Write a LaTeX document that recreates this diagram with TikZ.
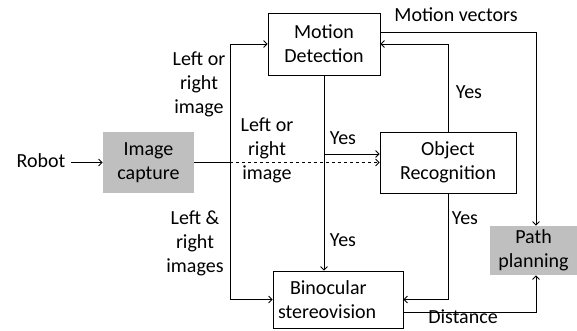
\documentclass[tikz,border=0pt]{standalone}
\usepackage{fontspec}
\setmainfont{Carlito}
\usetikzlibrary{arrows.meta}
\begin{document}
\begin{tikzpicture}[x=1pt,y=-1pt,
  font=\fontsize{20}{24}\selectfont,
  line width=0.8pt,
  >={Straight Barb[length=3.5pt,width=7pt]},
  box/.style={draw,inner sep=0pt,align=center},
  gbox/.style={fill=black!25,inner sep=0pt,align=center},
  lbl/.style={inner sep=0pt,align=center}]
\useasboundingbox (0,0) rectangle (577,330);
% blocks
\node[lbl] (robot) at (41,161) {Robot};
\node[gbox,minimum width=91pt,minimum height=61pt] (ic) at (148.5,162.5) {Image\\capture};
\node[box,minimum width=112pt,minimum height=62pt] (md) at (324,44) {Motion\\Detection};
\node[box,minimum width=136pt,minimum height=61pt] (or) at (448,162.5) {Object\\Recognition};
\node[box,minimum width=130pt,minimum height=57pt,text width=120pt,align=left] (bs) at (338,299.5) {\hspace*{12pt}Binocular\\stereovision};
\node[gbox,minimum width=87pt,minimum height=49pt] (pp) at (533.5,250.5) {Path\\planning};
% helper coordinates
\coordinate (sp) at (230,162.5);
\coordinate (yesy) at (0,154);
\coordinate (mv) at (536,32);
\coordinate (dst) at (536,312);
% connectors
\draw[->] ([xshift=5pt]robot.east |- ic.west) -- (ic.west);
\draw (ic.east) -- (sp);
\draw[->] (sp) |- (md.west);
\draw[->] (sp) |- (bs.west);
\draw[->,dashed] (sp) -- (or.west);
\draw[->] (md.south) -- (bs.north -| md.south);
\draw[->] (md.south |- yesy) -- (or.west |- yesy);
\draw[->] (or.north) |- (md.east);
\draw[->] (or.south) |- (bs.east);
\draw[->] (md.east |- mv) -- (mv) -- (pp.north -| mv);
\draw[->] (bs.east |- dst) -- (dst) -- (pp.south -| dst);
% labels
\node[lbl] (l1) at (199,84) {Left or\\right\\image};
\node[lbl] (l2) at (267,150) {Left or\\right\\image};
\node[lbl] (l3) at (195,243) {Left \&\\right\\images};
\node[lbl] (mvl) at (456,15) {Motion vectors};
\node[lbl] (y1) at (469,92) {Yes};
\node[lbl] (y2) at (343,138) {Yes};
\node[lbl] (y3) at (343,240) {Yes};
\node[lbl] (y4) at (465,218) {Yes};
\node[lbl] (dl) at (463,317) {Distance};
\end{tikzpicture}
\end{document}
